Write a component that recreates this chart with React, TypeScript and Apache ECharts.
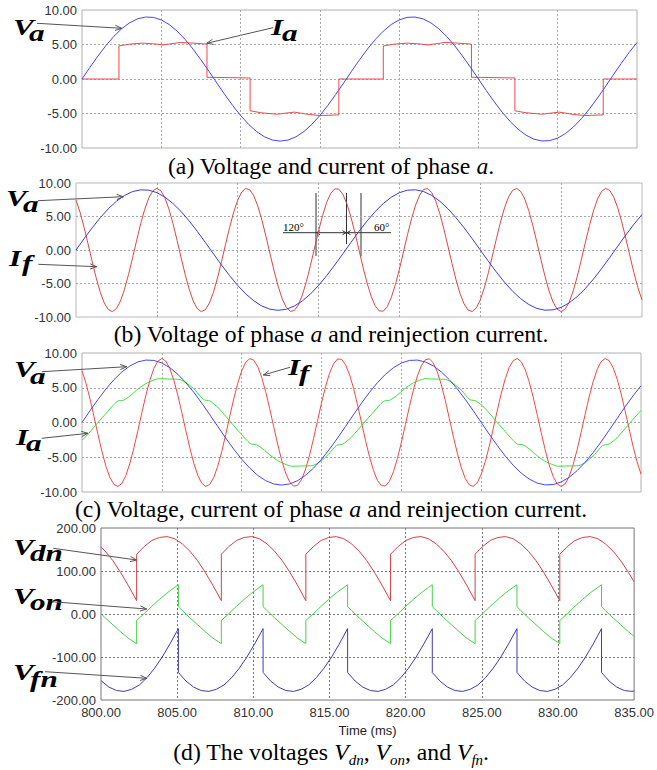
import React, { useEffect, useRef } from "react";
import * as echarts from "echarts";

// ---------- data ----------
const X_MIN = 800;
const X_MAX = 835;
const X_STEP = 5;
const Y_SMALL = [-10, 10, 5];
const Y_BIG = [-200, 200, 100];

// sample grids (ms)
const T_HALF = Array.from({ length: 71 }, (_, i) => 800 + i * 0.5);
const T_QUARTER = Array.from({ length: 141 }, (_, i) => 800 + i * 0.25);

// phase-a voltage, every 0.5 ms
const VA = [0, 1.69, 3.31, 4.82, 6.16, 7.28, 8.14, 8.72, 8.98, 8.93, 8.56, 7.89, 6.93, 5.74, 4.34, 2.78, 1.13, -0.57, -2.24, -3.83, -5.29, -6.56, -7.6, -8.37, -8.84, -9.0, -8.84, -8.37, -7.6, -6.56, -5.29, -3.83, -2.24, -0.57, 1.13, 2.78, 4.34, 5.74, 6.93, 7.89, 8.56, 8.93, 8.98, 8.72, 8.14, 7.28, 6.16, 4.82, 3.31, 1.69, 0, -1.69, -3.31, -4.82, -6.16, -7.28, -8.14, -8.72, -8.98, -8.93, -8.56, -7.89, -6.93, -5.74, -4.34, -2.78, -1.13, 0.57, 2.24, 3.83, 5.29];

// reinjection current, every 0.25 ms
const IF = [7.44, 5.64, 3.39, 0.87, -1.72, -4.18, -6.3, -7.92, -8.91, -9.2, -8.75, -7.61, -5.86, -3.65, -1.15, 1.44, 3.92, 6.08, 7.77, 8.83, 9.2, 8.83, 7.77, 6.08, 3.92, 1.44, -1.15, -3.65, -5.86, -7.61, -8.75, -9.2, -8.91, -7.92, -6.3, -4.18, -1.72, 0.87, 3.39, 5.64, 7.44, 8.66, 9.18, 8.98, 8.06, 6.51, 4.43, 2.01, -0.58, -3.12, -5.41, -7.27, -8.55, -9.16, -9.04, -8.2, -6.7, -4.68, -2.29, 0.29, 2.84, 5.17, 7.09, 8.44, 9.13, 9.09, 8.33, 6.9, 4.93, 2.57, 0, -2.57, -4.93, -6.9, -8.33, -9.09, -9.13, -8.44, -7.09, -5.17, -2.84, -0.29, 2.29, 4.68, 6.7, 8.2, 9.04, 9.16, 8.55, 7.27, 5.41, 3.12, 0.58, -2.01, -4.43, -6.51, -8.06, -8.98, -9.18, -8.66, -7.44, -5.64, -3.39, -0.87, 1.72, 4.18, 6.3, 7.92, 8.91, 9.2, 8.75, 7.61, 5.86, 3.65, 1.15, -1.44, -3.92, -6.08, -7.77, -8.83, -9.2, -8.83, -7.77, -6.08, -3.92, -1.44, 1.15, 3.65, 5.86, 7.61, 8.75, 9.2, 8.91, 7.92, 6.3, 4.18, 1.72, -0.87, -3.39, -5.64, -7.44];

// phase-a current without reinjection (panel a)
const IA_A = [[800, 0], [802.33, 0], [802.33, 4.8], [803.0, 5.05], [803.8, 5.2], [804.5, 5.1], [805.1, 4.95], [805.6, 5.1], [806.2, 5.3], [807.0, 5.2], [807.88, 5.05], [807.88, 0.25], [810.6, 0.15], [810.6, -4.6], [811.3, -4.9], [812.3, -5.1], [813.4, -4.8], [814.2, -5.1], [815.0, -5.3], [816.2, -5.2], [816.2, 0], [819.0, 0], [819.0, 4.8], [819.7, 5.05], [820.5, 5.2], [821.2, 5.1], [821.8, 4.95], [822.3, 5.1], [822.9, 5.3], [823.7, 5.2], [824.56, 5.05], [824.56, 0.25], [827.3, 0.15], [827.3, -4.6], [828.0, -4.9], [829.0, -5.1], [830.1, -4.8], [830.9, -5.1], [831.7, -5.3], [832.87, -5.2], [832.87, 0], [835, 0]];

// phase-a current with reinjection (panel c)
const IA_C = [[800, -2.5], [800.17, -2.2], [800.67, -0.9], [801.0, 0], [801.5, 1.3], [802.0, 2.6], [802.25, 3.1], [802.6, 3.2], [803.0, 3.8], [803.5, 4.8], [804.0, 5.6], [804.5, 6.1], [804.8, 6.3], [805.5, 6.25], [806.1, 6.2], [806.6, 5.6], [807.1, 4.6], [807.6, 3.3], [808.0, 3.1], [808.5, 2.2], [809.0, 0.9], [809.33, 0], [809.83, -1.3], [810.33, -2.6], [810.58, -3.1], [810.93, -3.2], [811.33, -3.8], [811.83, -4.8], [812.33, -5.6], [812.83, -6.1], [813.13, -6.3], [813.83, -6.25], [814.43, -6.2], [814.93, -5.6], [815.43, -4.6], [815.93, -3.3], [816.33, -3.1], [816.83, -2.2], [817.33, -0.9], [817.67, 0], [818.17, 1.3], [818.67, 2.6], [818.92, 3.1], [819.27, 3.2], [819.67, 3.8], [820.17, 4.8], [820.67, 5.6], [821.17, 6.1], [821.47, 6.3], [822.17, 6.25], [822.77, 6.2], [823.27, 5.6], [823.77, 4.6], [824.27, 3.3], [824.67, 3.1], [825.17, 2.2], [825.67, 0.9], [826.0, 0], [826.5, -1.3], [827.0, -2.6], [827.25, -3.1], [827.6, -3.2], [828.0, -3.8], [828.5, -4.8], [829.0, -5.6], [829.5, -6.1], [829.8, -6.3], [830.5, -6.25], [831.1, -6.2], [831.6, -5.6], [832.1, -4.6], [832.6, -3.3], [833.0, -3.1], [833.5, -2.2], [834.0, -0.9], [834.33, 0], [834.83, 1.3], [835, 1.7]];

// panel d voltages
const VDN = [[800, 156], [800.28, 146], [800.78, 124], [801.28, 97], [801.78, 67], [802.34, 31], [802.34, 139], [802.84, 157], [803.34, 171], [803.84, 178], [804.34, 180], [804.84, 175], [805.34, 163], [805.84, 146], [806.34, 124], [806.84, 97], [807.34, 67], [807.9, 31], [807.9, 139], [808.4, 157], [808.9, 171], [809.4, 178], [809.9, 180], [810.4, 175], [810.9, 163], [811.4, 146], [811.9, 124], [812.4, 97], [812.9, 67], [813.45, 31], [813.45, 139], [813.95, 157], [814.45, 171], [814.95, 178], [815.45, 180], [815.95, 175], [816.45, 163], [816.95, 146], [817.45, 124], [817.95, 97], [818.45, 67], [819.01, 31], [819.01, 139], [819.51, 157], [820.01, 171], [820.51, 178], [821.01, 180], [821.51, 175], [822.01, 163], [822.51, 146], [823.01, 124], [823.51, 97], [824.01, 67], [824.56, 31], [824.56, 139], [825.06, 157], [825.56, 171], [826.06, 178], [826.56, 180], [827.06, 175], [827.56, 163], [828.06, 146], [828.56, 124], [829.06, 97], [829.56, 67], [830.12, 31], [830.12, 139], [830.62, 157], [831.12, 171], [831.62, 178], [832.12, 180], [832.62, 175], [833.12, 163], [833.62, 146], [834.12, 124], [834.62, 97], [835, 75]];
const VON = [[800, 0.5], [800.28, -9], [800.78, -25], [801.28, -41], [801.78, -56], [802.34, -69], [802.34, -15], [802.84, 1], [803.34, 18], [803.84, 34], [804.34, 49], [804.84, 62], [805.08, 68], [805.08, 17], [805.34, 8], [805.84, -9], [806.34, -25], [806.84, -41], [807.34, -56], [807.9, -69], [807.9, -15], [808.4, 1], [808.9, 18], [809.4, 34], [809.9, 49], [810.4, 62], [810.64, 68], [810.64, 17], [810.9, 8], [811.4, -9], [811.9, -25], [812.4, -41], [812.9, -56], [813.45, -69], [813.45, -15], [813.95, 1], [814.45, 18], [814.95, 34], [815.45, 49], [815.95, 62], [816.19, 68], [816.19, 17], [816.45, 8], [816.95, -9], [817.45, -25], [817.95, -41], [818.45, -56], [819.01, -69], [819.01, -15], [819.51, 1], [820.01, 18], [820.51, 34], [821.01, 49], [821.51, 62], [821.75, 68], [821.75, 17], [822.01, 8], [822.51, -9], [823.01, -25], [823.51, -41], [824.01, -56], [824.56, -69], [824.56, -15], [825.06, 1], [825.56, 18], [826.06, 34], [826.56, 49], [827.06, 62], [827.31, 68], [827.31, 17], [827.56, 8], [828.06, -9], [828.56, -25], [829.06, -41], [829.56, -56], [830.12, -69], [830.12, -15], [830.62, 1], [831.12, 18], [831.62, 34], [832.12, 49], [832.62, 62], [832.86, 68], [832.86, 17], [833.12, 8], [833.62, -9], [834.12, -25], [834.62, -41], [835, -52]];
const VFN = [[800, -155], [800.52, -170], [801.02, -178], [801.52, -180], [802.02, -175], [802.52, -165], [803.02, -148], [803.52, -126], [804.02, -100], [804.52, -70], [805.08, -34], [805.08, -136], [805.58, -156], [806.08, -170], [806.58, -178], [807.08, -180], [807.58, -175], [808.08, -165], [808.58, -148], [809.08, -126], [809.58, -100], [810.08, -70], [810.64, -34], [810.64, -136], [811.14, -156], [811.64, -170], [812.14, -178], [812.64, -180], [813.14, -175], [813.64, -165], [814.14, -148], [814.64, -126], [815.14, -100], [815.64, -70], [816.19, -34], [816.19, -136], [816.69, -156], [817.19, -170], [817.69, -178], [818.19, -180], [818.69, -175], [819.19, -165], [819.69, -148], [820.19, -126], [820.69, -100], [821.19, -70], [821.75, -34], [821.75, -136], [822.25, -156], [822.75, -170], [823.25, -178], [823.75, -180], [824.25, -175], [824.75, -165], [825.25, -148], [825.75, -126], [826.25, -100], [826.75, -70], [827.31, -34], [827.31, -136], [827.81, -156], [828.31, -170], [828.81, -178], [829.31, -180], [829.81, -175], [830.31, -165], [830.81, -148], [831.31, -126], [831.81, -100], [832.31, -70], [832.86, -34], [832.86, -136], [833.36, -156], [833.86, -170], [834.36, -178], [834.86, -180], [835, -179]];

// ---------- styling / layout ----------
const SANS = "Liberation Sans";
const SERIF = "Liberation Serif";

const GRIDS = [
  { left: 82, top: 10, width: 555, height: 138, border: "#b0b0b0", split: "#aaa" },
  { left: 76, top: 183, width: 566, height: 134, border: "#b8b8b8", split: "#aaa" },
  { left: 82, top: 353, width: 559, height: 139, border: "#b0b0b0", split: "#aaa" },
  { left: 101, top: 528, width: 546, height: 172, border: "#777", split: "#777" },
];

const pair = (t: number[], v: number[]) => t.map((x, i) => [x, v[i]]);

function arrow(x1: number, y1: number, x2: number, y2: number) {
  const ang = Math.atan2(y2 - y1, x2 - x1);
  const L = 7;
  const A = 0.38;
  const p1 = [x2 - L * Math.cos(ang - A), y2 - L * Math.sin(ang - A)];
  const p2 = [x2 - L * Math.cos(ang + A), y2 - L * Math.sin(ang + A)];
  const st = { stroke: "#555", lineWidth: 1, fill: null };
  return [
    { type: "line", silent: true, shape: { x1, y1, x2, y2 }, style: st },
    { type: "polyline", silent: true, shape: { points: [p1, [x2, y2], p2] }, style: st },
  ];
}

type FontSpec = { size: number; style?: string; weight?: string };
function tx(x: number, y: number, text: string, f: FontSpec, extra: any = {}) {
  return {
    type: "text",
    silent: true,
    x,
    y,
    ...extra,
    style: {
      text,
      fontFamily: SERIF,
      fontSize: f.size,
      fontStyle: f.style || "normal",
      fontWeight: f.weight || "normal",
      fill: "#000",
      align: "left",
      verticalAlign: "middle",
      textAlign: "left",
      textVerticalAlign: "middle",
    },
  };
}

const LBL: FontSpec = { size: 24, style: "italic", weight: "bold" };
function label(x: number, y: number, main: string, sx: number, sy: number, sub: string) {
  return [
    tx(x, y, main, LBL, { scaleX: 1.3 }),
    tx(sx, sy, sub, LBL, { scaleX: 1.3 }),
  ];
}

const CAP_SIZE = 23.7;
const capRich = {
  i: { fontStyle: "italic", fontFamily: SERIF, fontSize: CAP_SIZE, lineHeight: 30 },
  s: { fontStyle: "italic", fontFamily: SERIF, fontSize: 15, lineHeight: 14, verticalAlign: "bottom" },
};
function caption(y: number, text: string) {
  return {
    type: "text",
    silent: true,
    x: 331,
    y,
    style: {
      text,
      rich: capRich,
      fontFamily: SERIF,
      fontSize: CAP_SIZE,
      lineHeight: 30,
      fill: "#000",
      align: "center",
      verticalAlign: "middle",
      textAlign: "center",
      textVerticalAlign: "middle",
    },
  };
}

function buildOption() {
  const grid = GRIDS.map((g) => ({
    left: g.left,
    top: g.top,
    width: g.width,
    height: g.height,
    show: true,
    borderColor: g.border,
    borderWidth: 1,
    backgroundColor: "#fff",
    containLabel: false,
  }));
  const xAxis = GRIDS.map((g, i) => ({
    type: "value",
    gridIndex: i,
    min: X_MIN,
    max: X_MAX,
    interval: X_STEP,
    axisLine: { show: false },
    axisTick: { show: false },
    axisLabel: {
      show: i === 3,
      formatter: (v: number) => v.toFixed(2),
      color: "#333",
      fontFamily: SANS,
      fontSize: 13,
      margin: 6,
      showMaxLabel: true,
    },
    name: i === 3 ? "Time (ms)" : "",
    nameLocation: "middle",
    nameGap: 24,
    nameTextStyle: { color: "#222", fontFamily: SANS, fontSize: 13 },
    splitLine: {
      show: true,
      showMinLine: false,
      showMaxLine: false,
      lineStyle: { color: g.split, type: [2, 2], width: 1 },
    },
  }));
  const yAxis = GRIDS.map((g, i) => {
    const r = i === 3 ? Y_BIG : Y_SMALL;
    return {
      type: "value",
      gridIndex: i,
      min: r[0],
      max: r[1],
      interval: r[2],
      axisLine: { show: false },
      axisTick: { show: false },
      axisLabel: {
        formatter: (v: number) => v.toFixed(2),
        color: "#333",
        fontFamily: SANS,
        fontSize: 13,
        margin: 5,
      },
      splitLine: {
        show: true,
        showMinLine: false,
        showMaxLine: false,
        lineStyle: { color: g.split, type: [2, 2], width: 1 },
      },
    };
  });

  const line = (idx: number, data: any[], color: string, smooth: any = false) => ({
    type: "line",
    xAxisIndex: idx,
    yAxisIndex: idx,
    data,
    smooth,
    showSymbol: false,
    symbol: "none",
    lineStyle: { color, width: 1 },
    itemStyle: { color },
    emphasis: { disabled: true },
    animation: false,
  });

  const vaData = pair(T_HALF, VA);
  const ifData = pair(T_QUARTER, IF);

  const series = [
    line(0, IA_A, "#f04848"),
    line(0, vaData, "#4646f0"),
    line(1, ifData, "#dc4646"),
    line(1, vaData, "#3c3cd8"),
    line(2, ifData, "#f04848"),
    line(2, IA_C, "#3cdc3c", 0.2),
    line(2, vaData, "#4646f0"),
    line(3, VDN, "#d2404a"),
    line(3, VON, "#46d246"),
    line(3, VFN, "#3c3cb0"),
  ];

  const small: FontSpec = { size: 11 };
  const angleLines = [
    { type: "line", silent: true, shape: { x1: 316, y1: 193, x2: 316, y2: 256 }, style: { stroke: "#333", lineWidth: 1 } },
    { type: "line", silent: true, shape: { x1: 346.5, y1: 193, x2: 346.5, y2: 244 }, style: { stroke: "#333", lineWidth: 1 } },
    { type: "line", silent: true, shape: { x1: 361, y1: 193, x2: 361, y2: 256 }, style: { stroke: "#333", lineWidth: 1 } },
    { type: "line", silent: true, shape: { x1: 283, y1: 232.7, x2: 391, y2: 232.7 }, style: { stroke: "#333", lineWidth: 1 } },
    { type: "polyline", silent: true, shape: { points: [[320, 230.7], [316.5, 232.7], [320, 234.7]] }, style: { stroke: "#333", lineWidth: 1, fill: null } },
    { type: "polyline", silent: true, shape: { points: [[342.5, 230.7], [346, 232.7], [342.5, 234.7]] }, style: { stroke: "#333", lineWidth: 1, fill: null } },
    { type: "polyline", silent: true, shape: { points: [[350.5, 230.7], [347, 232.7], [350.5, 234.7]] }, style: { stroke: "#333", lineWidth: 1, fill: null } },
    tx(283, 227, "120°", small),
    tx(374, 227, "60°", small),
  ];

  const elements: any[] = [
    // panel a
    ...label(13, 26.5, "V", 29, 33, "a"),
    ...arrow(37, 23.3, 121.7, 28.3),
    ...label(271, 26.5, "I", 282, 33, "a"),
    ...arrow(273, 27.7, 206.7, 43.3),
    // panel b
    ...label(6, 197.5, "V", 23, 204, "a"),
    ...arrow(38, 200.7, 123.3, 196.7),
    ...label(9, 257.5, "I", 22, 263, "f"),
    ...arrow(38.3, 264.3, 96.7, 266.7),
    ...angleLines,
    // panel c
    ...label(14, 369, "V", 30, 376, "a"),
    ...arrow(41.7, 371.7, 126.7, 366.7),
    ...label(16, 436.7, "I", 26, 443, "a"),
    ...arrow(41.7, 438.3, 88, 433.3),
    ...label(288, 366.7, "I", 299, 373, "f"),
    ...arrow(290, 367.3, 263.3, 375),
    // panel d
    ...label(13, 546.5, "V", 30, 552.5, "dn"),
    ...arrow(53.3, 548.3, 136.7, 560),
    ...label(13, 595.5, "V", 30, 601.5, "on"),
    ...arrow(51.7, 601.7, 146.7, 609),
    ...label(13, 672, "V", 30, 679, "fn"),
    ...arrow(45, 671.7, 146.7, 678.3),
    // captions
    caption(166, "(a) Voltage and current of phase {i|a}."),
    caption(334, "(b) Voltage of phase {i|a} and reinjection current."),
    caption(509, "(c) Voltage, current of phase {i|a} and reinjection current."),
    caption(752, "(d) The voltages {i|V}{s|dn}, {i|V}{s|on}, and {i|V}{s|fn}."),
  ];

  return {
    animation: false,
    backgroundColor: "#fff",
    grid,
    xAxis,
    yAxis,
    series,
    graphic: { elements },
  };
}

export default function App() {
  const ref = useRef<HTMLDivElement>(null);
  useEffect(() => {
    if (!ref.current) return;
    const chart = echarts.init(ref.current, null, { renderer: "svg" });
    chart.setOption(buildOption() as any);
    return () => chart.dispose();
  }, []);
  return (
    <div
      ref={ref}
      style={{ position: "fixed", left: 0, top: 0, width: 657, height: 770, background: "#fff" }}
    />
  );
}
